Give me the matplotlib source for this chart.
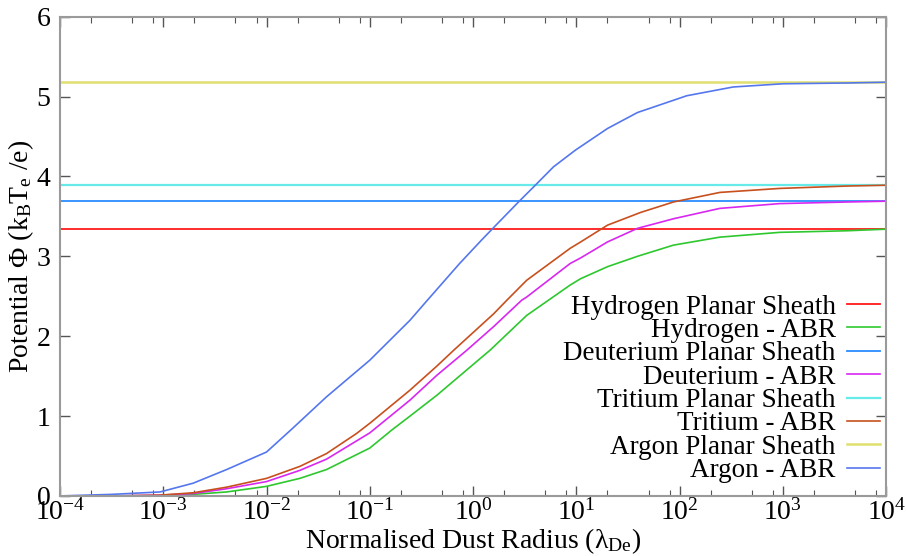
import numpy as np
import matplotlib
matplotlib.use("Agg")
import matplotlib.pyplot as plt
from matplotlib import font_manager
from matplotlib.ticker import LogLocator, LogFormatterMathtext, NullFormatter, MultipleLocator

names = sorted({f.name for f in font_manager.fontManager.ttflist})
serif_name = 'Liberation Serif' if 'Liberation Serif' in names else 'DejaVu Serif'
plt.rcParams['font.family'] = 'serif'
plt.rcParams['font.serif'] = [serif_name, 'DejaVu Serif']
plt.rcParams['mathtext.fontset'] = 'custom'
plt.rcParams['mathtext.rm'] = serif_name
plt.rcParams['mathtext.it'] = serif_name + ':italic'
plt.rcParams['mathtext.bf'] = serif_name + ':bold'

# ---- data ----
planar_levels = {"Hydrogen": 3.34, "Deuterium": 3.69, "Tritium": 3.89, "Argon": 5.18}

h_x = [1e-4, 3.2e-4, 9.3e-4, 1.95e-3, 4.1e-3, 1e-2, 2.1e-2, 3.8e-2, 0.1, 0.163, 0.245, 0.445, 1.17, 1.46, 3.3, 8.7, 11, 20, 39, 87, 245, 930, 4200, 1e4]
h_y = [0.0, 0.0, 0.0, 0.02, 0.05, 0.12, 0.22, 0.33, 0.60, 0.825, 1.0, 1.26, 1.72, 1.825, 2.26, 2.64, 2.72, 2.87, 3.0, 3.14, 3.24, 3.30, 3.32, 3.34]

d_x = [1e-4, 3.2e-4, 9.3e-4, 1.95e-3, 4.1e-3, 1e-2, 2.1e-2, 3.8e-2, 0.1, 0.245, 0.445, 0.87, 1.58, 2.95, 3.3, 8.7, 11, 20, 39, 87, 245, 930, 4200, 1e4]
d_y = [0.0, 0.0, 0.01, 0.03, 0.09, 0.18, 0.32, 0.46, 0.79, 1.2, 1.51, 1.825, 2.12, 2.45, 2.49, 2.91, 2.98, 3.18, 3.35, 3.47, 3.60, 3.66, 3.68, 3.69]

t_x = [1e-4, 3.2e-4, 9.3e-4, 1.95e-3, 4.1e-3, 1e-2, 2.1e-2, 3.8e-2, 7.4e-2, 0.1, 0.245, 0.445, 0.65, 1.58, 2.12, 3.3, 8.7, 11, 20, 42, 87, 245, 930, 4200, 1e4]
t_y = [0.0, 0.0, 0.01, 0.04, 0.11, 0.22, 0.37, 0.53, 0.78, 0.91, 1.325, 1.625, 1.825, 2.28, 2.45, 2.7, 3.10, 3.18, 3.39, 3.55, 3.68, 3.80, 3.85, 3.88, 3.89]

a_x = [1e-4, 3.2e-4, 9.3e-4, 1.95e-3, 4.1e-3, 1e-2, 1.8e-2, 3.8e-2, 0.1, 0.245, 0.355, 0.74, 1.2, 1.5, 2.75, 4.0, 6.0, 9.8, 20, 39, 117, 330, 1000, 4200, 1e4]
a_y = [0.0, 0.02, 0.05, 0.16, 0.33, 0.55, 0.85, 1.24, 1.70, 2.2, 2.44, 2.91, 3.2, 3.33, 3.68, 3.89, 4.12, 4.33, 4.6, 4.80, 5.01, 5.12, 5.16, 5.17, 5.18]

x_limits = [1e-4, 1e4]
y_limits = [0, 6]

colors = {
    "h_pl": "#ff1a1a", "h_abr": "#2ec82e",
    "d_pl": "#2a8cff", "d_abr": "#d828f0",
    "t_pl": "#66eaea", "t_abr": "#c8501e",
    "a_pl": "#e0e070", "a_abr": "#5577ee",
}

fig = plt.figure(figsize=(9.06, 5.56), dpi=100)
ax = fig.add_axes([0.0662, 0.108, 0.912, 0.862])
ax.set_xscale('log')
ax.set_xlim(*x_limits)
ax.set_ylim(*y_limits)

lw_pl = 1.3
lw = 1.2
ax.axhline(planar_levels["Hydrogen"], color=colors["h_pl"], lw=lw_pl, label="Hydrogen Planar Sheath")
ax.plot(h_x, h_y, color=colors["h_abr"], lw=lw, label="Hydrogen - ABR")
ax.axhline(planar_levels["Deuterium"], color=colors["d_pl"], lw=lw_pl, label="Deuterium Planar Sheath")
ax.plot(d_x, d_y, color=colors["d_abr"], lw=lw, label="Deuterium - ABR")
ax.axhline(planar_levels["Tritium"], color=colors["t_pl"], lw=lw_pl + 0.3, label="Tritium Planar Sheath")
ax.plot(t_x, t_y, color=colors["t_abr"], lw=lw, label="Tritium - ABR")
ax.axhline(planar_levels["Argon"], color=colors["a_pl"], lw=lw_pl + 0.5, label="Argon Planar Sheath")
ax.plot(a_x, a_y, color=colors["a_abr"], lw=lw, label="Argon - ABR")

leg = ax.legend(loc='lower right', frameon=False, markerfirst=False, fontsize=19.5,
                handlelength=1.25, handletextpad=0.4, labelspacing=-0.06,
                borderaxespad=0.0, bbox_to_anchor=(1.006, 0.004))

ax.xaxis.set_major_locator(LogLocator(base=10, numticks=20))
ax.xaxis.set_major_formatter(LogFormatterMathtext())
ax.xaxis.set_minor_locator(LogLocator(base=10, subs=(2, 5, 8), numticks=20))
ax.xaxis.set_minor_formatter(NullFormatter())
ax.yaxis.set_major_locator(MultipleLocator(1))

for s in ax.spines.values():
    s.set_color('#9a9a9a')
    s.set_linewidth(1.5)
ax.tick_params(which='both', direction='in', top=True, right=True, color='#555555')
ax.tick_params(which='major', length=7, width=1.0, labelsize=20, pad=2)
ax.tick_params(axis='y', which='major', pad=7)
ax.tick_params(which='minor', length=4, width=0.8)

ax.set_xlabel("Normalised Dust Radius (λ$_{\\mathrm{De}}$)", fontsize=20, labelpad=1)
ax.set_ylabel("Potential Φ (k$_{\\mathrm{B}}$T$_{\\mathrm{e}}$ /e)", fontsize=20, labelpad=0)

fig.savefig("out.png", dpi=100)
